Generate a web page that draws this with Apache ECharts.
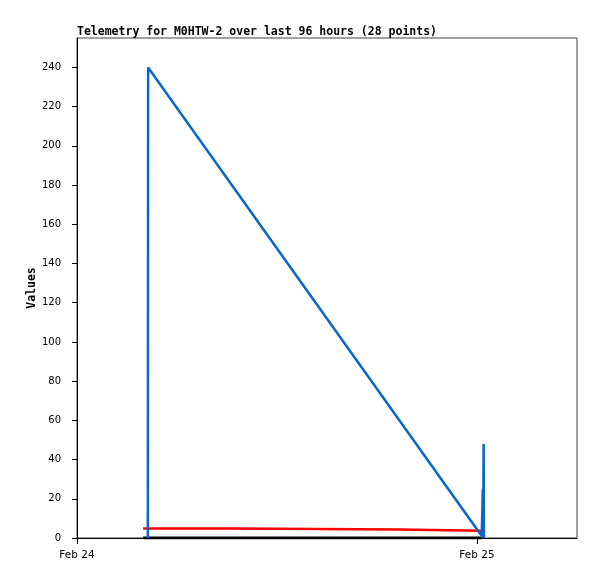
<!DOCTYPE html>
<html>
<head>
<meta charset="utf-8">
<script src="https://cdn.jsdelivr.net/npm/echarts@6/dist/echarts.min.js"></script>
<style>
html,body{margin:0;padding:0;background:#fff;}
#chart{width:597px;height:579px;}
</style>
</head>
<body>
<div id="chart"></div>
<script>
// ---- data ----
const titleText = 'Telemetry for M0HTW-2 over last 96 hours (28 points)';
const yTicks = [0, 20, 40, 60, 80, 100, 120, 140, 160, 180, 200, 220, 240];
const xTickTimes = ['2024-02-24T00:00:00Z', '2024-02-25T00:00:00Z'];
const xTickLabels = ['Feb 24', 'Feb 25'];

const blackTimes = ['2024-02-24T03:58:00Z', '2024-02-25T00:17:00Z'];
const blackValues = [0, 0];

const redTimes = ['2024-02-24T03:58:00Z', '2024-02-24T09:22:00Z', '2024-02-24T09:23:00Z',
                  '2024-02-24T19:19:00Z', '2024-02-24T19:20:00Z', '2024-02-25T00:17:00Z'];
const redValues = [4.9, 4.9, 4.3, 4.3, 3.7, 3.7];

const blueTimes = ['2024-02-24T04:15:00Z', '2024-02-24T04:16:00Z', '2024-02-25T00:17:00Z',
                   '2024-02-25T00:20:00Z', '2024-02-25T00:21:00Z', '2024-02-25T00:22:00Z',
                   '2024-02-25T00:24:00Z', '2024-02-25T00:25:00Z'];
const blueValues = [0, 240, 1, 0, 25, 0, 48, 0];

const xMin = '2024-02-24T00:00:00Z';
const xMax = '2024-02-25T06:00:00Z';
const yMax = 255;

// ---- build ----
const ts = s => Date.parse(s);
const pairs = (t, v) => t.map((x, i) => [ts(x), v[i]]);
const tickMs = xTickTimes.map(ts);

const chart = echarts.init(document.getElementById('chart'), null, {renderer: 'canvas'});
chart.setOption({
  animation: false,
  backgroundColor: '#fff',
  title: {
    text: titleText,
    left: 77, top: 26, padding: 0,
    textStyle: {fontFamily: 'DejaVu Sans Mono', fontWeight: 'bold', fontSize: 11.5, color: '#000'}
  },
  grid: {left: 77, top: 38, width: 500, height: 500, show: true, borderColor: '#444', borderWidth: 1, backgroundColor: 'transparent'},
  xAxis: {
    type: 'value',
    min: ts(xMin), max: ts(xMax),
    axisLine: {show: true, onZero: false, lineStyle: {color: '#000', width: 1}},
    axisTick: {show: true, length: 6, customValues: tickMs, lineStyle: {color: '#000'}},
    axisLabel: {
      customValues: tickMs,
      margin: 12,
      fontFamily: 'DejaVu Sans', fontSize: 10.5, color: '#000',
      formatter: v => { const i = tickMs.indexOf(v); return i >= 0 ? xTickLabels[i] : ''; }
    },
    splitLine: {show: false}
  },
  yAxis: {
    type: 'value',
    min: 0, max: yMax,
    name: 'Values',
    nameLocation: 'middle',
    nameGap: 39,
    nameMoveOverlap: false,
    nameRotate: 90,
    nameTextStyle: {fontFamily: 'DejaVu Sans Mono', fontWeight: 'bold', fontSize: 11.5, color: '#000'},
    axisLine: {show: true, lineStyle: {color: '#000', width: 1}},
    axisTick: {show: true, length: 5, customValues: yTicks, lineStyle: {color: '#000'}},
    axisLabel: {
      customValues: yTicks,
      margin: 16,
      fontFamily: 'DejaVu Sans', fontSize: 10, color: '#000'
    },
    splitLine: {show: false}
  },
  series: [
    {type: 'line', data: pairs(blackTimes, blackValues), showSymbol: false, lineStyle: {color: '#000', width: 3}, z: 2},
    {type: 'line', data: pairs(redTimes, redValues), showSymbol: false, lineStyle: {color: '#ff0000', width: 2.5}, z: 3},
    {type: 'line', data: pairs(blueTimes, blueValues), showSymbol: false, lineStyle: {color: '#0a66cc', width: 2.5}, z: 4}
  ]
});
</script>
</body>
</html>
